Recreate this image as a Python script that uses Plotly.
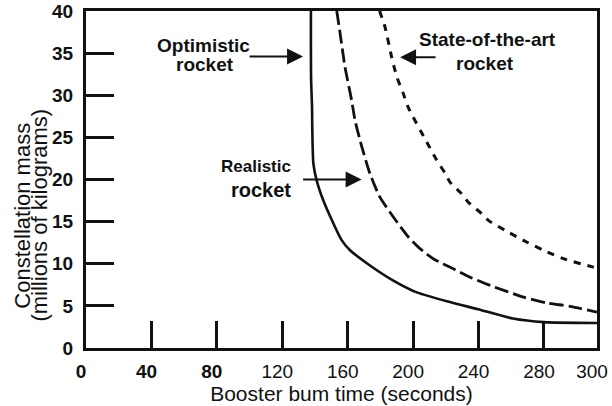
import numpy as np
import plotly.graph_objects as go

# Booster burn time (seconds) vs. constellation mass (millions of kilograms)
optimistic_t = [137.5, 137.6, 138.2, 138.3, 139.0, 141.0, 145.1, 151.2, 156.3, 161.4,
                173.6, 187.9, 202.2, 222.5, 239.7, 261.0, 280.0, 300.0]
optimistic_m = [40.0, 32.0, 28.5, 26.5, 21.9, 19.9, 17.5, 14.8, 12.8, 11.6,
                9.8, 8.0, 6.6, 5.45, 4.6, 3.5, 3.07, 2.97]

realistic_t = [153.3, 155.3, 158.3, 162.4, 164.5, 168.6, 173.6, 179.7, 187.9, 197.0,
               204.2, 212.3, 224.6, 234.8, 247.0, 267.4, 281.0, 289.8, 300.0]
realistic_m = [40.0, 37.4, 33.4, 29.4, 27.0, 23.9, 20.7, 17.9, 15.55, 13.2,
               11.8, 10.6, 9.4, 8.4, 7.43, 6.04, 5.35, 4.95, 4.26]

state_t = [179.5, 182.8, 186.9, 190.0, 193.8, 196.9, 209.3, 214.4, 219.5, 222.5,
           229.7, 233.7, 241.9, 246.0, 256.2, 267.4, 279.6, 287.3, 298.6, 300.0]
state_m = [40.0, 38.1, 34.5, 32.2, 30.3, 28.6, 24.1, 22.3, 20.75, 19.7,
           18.3, 17.3, 15.95, 15.15, 13.97, 12.78, 11.6, 10.6, 9.6, 9.5]

x_ticks = [0, 40, 80, 120, 160, 200, 240, 280, 300]
x_tick_text = ["<b>0</b>", "<b>40</b>", "<b>80</b>", "120", "160", "200", "240", "280", "300"]
y_ticks = [0, 5, 10, 15, 20, 25, 30, 35, 40]

# The ticks are evenly spaced up to 280 s; the final 280-300 s step is stretched
# so that the 300 s mark sits on the right edge of the frame.
X_BREAK = 280
LAST_STRETCH = 1.62


def axis_x(t):
    t = np.asarray(t, dtype=float)
    return np.where(t <= X_BREAK, t, X_BREAK + (t - X_BREAK) * LAST_STRETCH).tolist()


FONT = "Liberation Sans, Arial, Helvetica, sans-serif"
INK = "#111111"

fig = go.Figure()

fig.add_trace(go.Scatter(
    x=axis_x(optimistic_t), y=optimistic_m, mode="lines",
    line=dict(color=INK, width=2.6, shape="spline", smoothing=0.6),
    name="Optimistic rocket", showlegend=False, hoverinfo="skip"))

fig.add_trace(go.Scatter(
    x=axis_x(realistic_t), y=realistic_m, mode="lines",
    line=dict(color=INK, width=2.8, dash="14px,5px", shape="spline", smoothing=0.6),
    name="Realistic rocket", showlegend=False, hoverinfo="skip"))

fig.add_trace(go.Scatter(
    x=axis_x(state_t), y=state_m, mode="lines",
    line=dict(color=INK, width=3, dash="7px,7px", shape="spline", smoothing=0.6),
    name="State-of-the-art rocket", showlegend=False, hoverinfo="skip"))

annotations = []


def label(text, x, y, size, xanchor="center", bold=True):
    annotations.append(dict(
        text=f"<b>{text}</b>" if bold else text, x=x, y=y, xref="x", yref="y",
        xanchor=xanchor, yanchor="middle", showarrow=False,
        font=dict(family=FONT, size=size, color=INK)))


def arrow(t, y, ax):
    annotations.append(dict(
        text="", x=float(axis_x(t)), y=y, xref="x", yref="y", ax=ax, ay=0,
        axref="pixel", ayref="pixel",
        showarrow=True, arrowhead=2, arrowsize=1.6,
        arrowwidth=2, arrowcolor=INK, standoff=0, startstandoff=0))


label("Optimistic", 72.1, 35.9, 19)
label("rocket", 72.5, 33.6, 19)
arrow(132.7, 34.6, -55)

label("Realistic", 126.6, 21.5, 17, xanchor="right")
label("rocket", 126.6, 18.7, 20, xanchor="right")
arrow(168.5, 20.0, -60)

label("State-of-the-art", 245.2, 36.6, 19)
label("rocket", 244.0, 33.8, 19)
arrow(192.0, 34.5, 37)

# Two-line y-axis title, set as rotated text for tight leading
for txt, xp in [("Constellation mass", -0.125), ("(millions of kilograms)", -0.09)]:
    annotations.append(dict(
        text=txt, x=xp, y=0.393, xref="paper", yref="paper", textangle=-90,
        xanchor="center", yanchor="middle", showarrow=False,
        font=dict(family=FONT, size=22, color=INK)))

axis_common = dict(
    showline=True, linecolor=INK, linewidth=3, mirror=True,
    showgrid=False, zeroline=False, ticks="inside", automargin=False,
    tickcolor=INK, tickwidth=2.5, fixedrange=True, ticklabeloverflow="allow")

fig.update_layout(
    width=612, height=406,
    margin=dict(l=86, r=15, t=11, b=58),
    paper_bgcolor="white", plot_bgcolor="white",
    font=dict(family=FONT, color=INK),
    annotations=annotations,
    xaxis=dict(
        **axis_common, range=[-0.01, float(axis_x(300)) + 0.01],
        tickmode="array", tickvals=axis_x(x_ticks), ticktext=x_tick_text,
        ticklen=27, tickfont=dict(family=FONT, size=19, color=INK),
        ticklabelstandoff=4, ticklabelshift=-5,
        title=dict(text="Booster bum time (seconds)",
                   font=dict(family=FONT, size=21, color=INK), standoff=6)),
    yaxis=dict(
        **axis_common, range=[0, 40],
        tickmode="array", tickvals=y_ticks,
        ticktext=[f"<b>{v}</b>" for v in y_ticks],
        ticklen=28, tickfont=dict(family=FONT, size=19, color=INK),
        ticklabelstandoff=6),
)

fig.write_html("out.html")
